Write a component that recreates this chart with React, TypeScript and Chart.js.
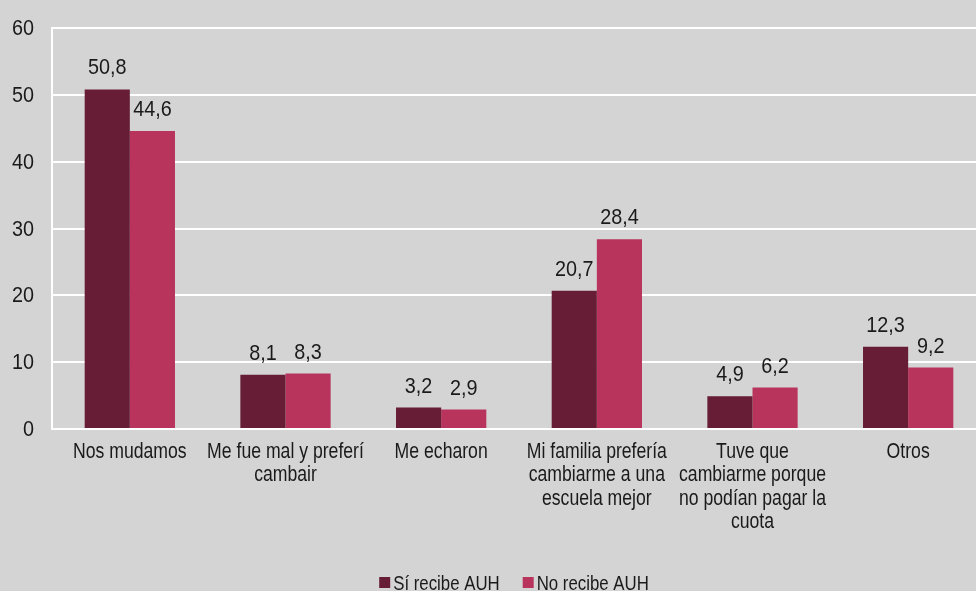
import React, { useEffect, useRef } from "react";
import { Chart, registerables } from "chart.js";

Chart.register(...registerables);

const categories: (string | string[])[] = [
  "Nos mudamos",
  ["Me fue mal y preferí", "cambair"],
  "Me echaron",
  ["Mi familia prefería", "cambiarme a una", "escuela mejor"],
  ["Tuve que", "cambiarme porque", "no podían pagar la", "cuota"],
  "Otros",
];
const siRecibe = [50.8, 8.1, 3.2, 20.7, 4.9, 12.3];
const noRecibe = [44.6, 8.3, 2.9, 28.4, 6.2, 9.2];
const seriesNames = ["Sí recibe AUH", "No recibe AUH"];
const yTicks = [0, 10, 20, 30, 40, 50, 60];

const FONT = '"Liberation Sans", Arial, sans-serif';
const TEXT = "#1a1a1a";
const DARK = "#661d35";
const PINK = "#b8345c";
const BG = "#d4d4d4";

// draw horizontally condensed text (to mimic a narrow typeface)
function narrowText(
  ctx: CanvasRenderingContext2D,
  text: string,
  x: number,
  y: number,
  size: number,
  sx: number,
  align: CanvasTextAlign,
  baseline: CanvasTextBaseline
) {
  ctx.save();
  ctx.font = `${size}px ${FONT}`;
  ctx.fillStyle = TEXT;
  ctx.textAlign = align;
  ctx.textBaseline = baseline;
  ctx.translate(x, y);
  ctx.scale(sx, 1);
  ctx.fillText(text, 0, 0);
  ctx.restore();
}

const axisText = {
  id: "axisText",
  afterDraw(chart: any) {
    const ctx = chart.ctx;
    const area = chart.chartArea;
    const ys = chart.scales.y;
    ys.ticks.forEach((t: any) => {
      narrowText(ctx, String(t.value), 34, ys.getPixelForValue(t.value) + 1, 22, 0.9, "right", "middle");
    });
    const xs = chart.scales.x;
    chart.data.labels.forEach((lab: any, i: number) => {
      const lines = Array.isArray(lab) ? lab : [lab];
      const x = xs.getPixelForTick(i);
      lines.forEach((ln: string, j: number) => {
        narrowText(ctx, ln, x, area.bottom + 23 + j * 23.5, 21.5, 0.82, "center", "middle");
      });
    });
  },
};

const valueLabels = {
  id: "valueLabels",
  afterDatasetsDraw(chart: any) {
    const ctx = chart.ctx;
    chart.data.datasets.forEach((ds: any, di: number) => {
      const meta = chart.getDatasetMeta(di);
      meta.data.forEach((bar: any, i: number) => {
        const v = ds.data[i] as number;
        const txt = v.toFixed(1).replace(".", ",");
        narrowText(ctx, txt, bar.x, bar.y - 15, 22.5, 0.88, "center", "alphabetic");
      });
    });
  },
};

const customLegend = {
  id: "customLegend",
  afterDraw(chart: any) {
    const ctx = chart.ctx;
    const area = chart.chartArea;
    const size = 20.5;
    const sx = 0.82;
    ctx.save();
    ctx.font = `${size}px ${FONT}`;
    const box = 11;
    const gapBoxText = 3;
    const gapItems = 23;
    const items = chart.data.datasets.map((ds: any) => ({
      label: ds.label as string,
      color: ds.backgroundColor as string,
      w: ctx.measureText(ds.label).width * sx,
    }));
    ctx.restore();
    let total = 0;
    items.forEach((it: any, i: number) => {
      total += box + gapBoxText + it.w + (i < items.length - 1 ? gapItems : 0);
    });
    let x = (area.left + area.right) / 2 - 5 - total / 2;
    const baseline = 590;
    items.forEach((it: any) => {
      ctx.save();
      ctx.fillStyle = it.color;
      ctx.fillRect(x, baseline - 13, box, box);
      ctx.restore();
      x += box + gapBoxText;
      narrowText(ctx, it.label, x, baseline, size, sx, "left", "alphabetic");
      x += it.w + gapItems;
    });
  },
};

export default function App() {
  const canvasRef = useRef<HTMLCanvasElement | null>(null);

  useEffect(() => {
    document.body.style.margin = "0";
    document.body.style.overflow = "hidden";
    const canvas = canvasRef.current;
    if (!canvas) return;
    const chart = new Chart(canvas, {
      type: "bar",
      data: {
        labels: categories,
        datasets: [
          {
            label: seriesNames[0],
            data: siRecibe,
            backgroundColor: DARK,
            borderWidth: 0,
          },
          {
            label: seriesNames[1],
            data: noRecibe,
            backgroundColor: PINK,
            borderWidth: 0,
          },
        ],
      },
      options: {
        animation: false,
        responsive: false,
        maintainAspectRatio: false,
        devicePixelRatio: 1,
        layout: { padding: { top: 28, right: 4, bottom: 0, left: 0 } },
        datasets: {
          bar: { categoryPercentage: 0.58, barPercentage: 1 },
        },
        plugins: {
          legend: { display: false },
          tooltip: { enabled: false },
          title: { display: false },
        },
        scales: {
          x: {
            grid: { display: false, drawTicks: false },
            border: { display: false },
            ticks: { display: false, autoSkip: false },
            afterFit(scale: any) {
              scale.height = 162;
            },
          },
          y: {
            min: 0,
            max: 60,
            afterBuildTicks(scale: any) {
              scale.ticks = yTicks.map((v) => ({ value: v }));
            },
            grid: {
              color: "#ffffff",
              lineWidth: 2,
              drawTicks: false,
            },
            border: { display: true, color: "#ffffff", width: 2 },
            ticks: { display: false },
            afterFit(scale: any) {
              scale.width = 52;
            },
          },
        },
      },
      plugins: [
        {
          id: "bg",
          beforeDraw(c: any) {
            const ctx = c.ctx;
            ctx.save();
            ctx.fillStyle = BG;
            ctx.fillRect(0, 0, c.width, c.height);
            ctx.restore();
          },
        },
        valueLabels,
        axisText,
        customLegend,
      ],
    });
    return () => chart.destroy();
  }, []);

  return (
    <div style={{ width: 990, height: 591, overflow: "hidden", background: BG }}>
      <canvas ref={canvasRef} width={990} height={591} style={{ display: "block" }} />
    </div>
  );
}
